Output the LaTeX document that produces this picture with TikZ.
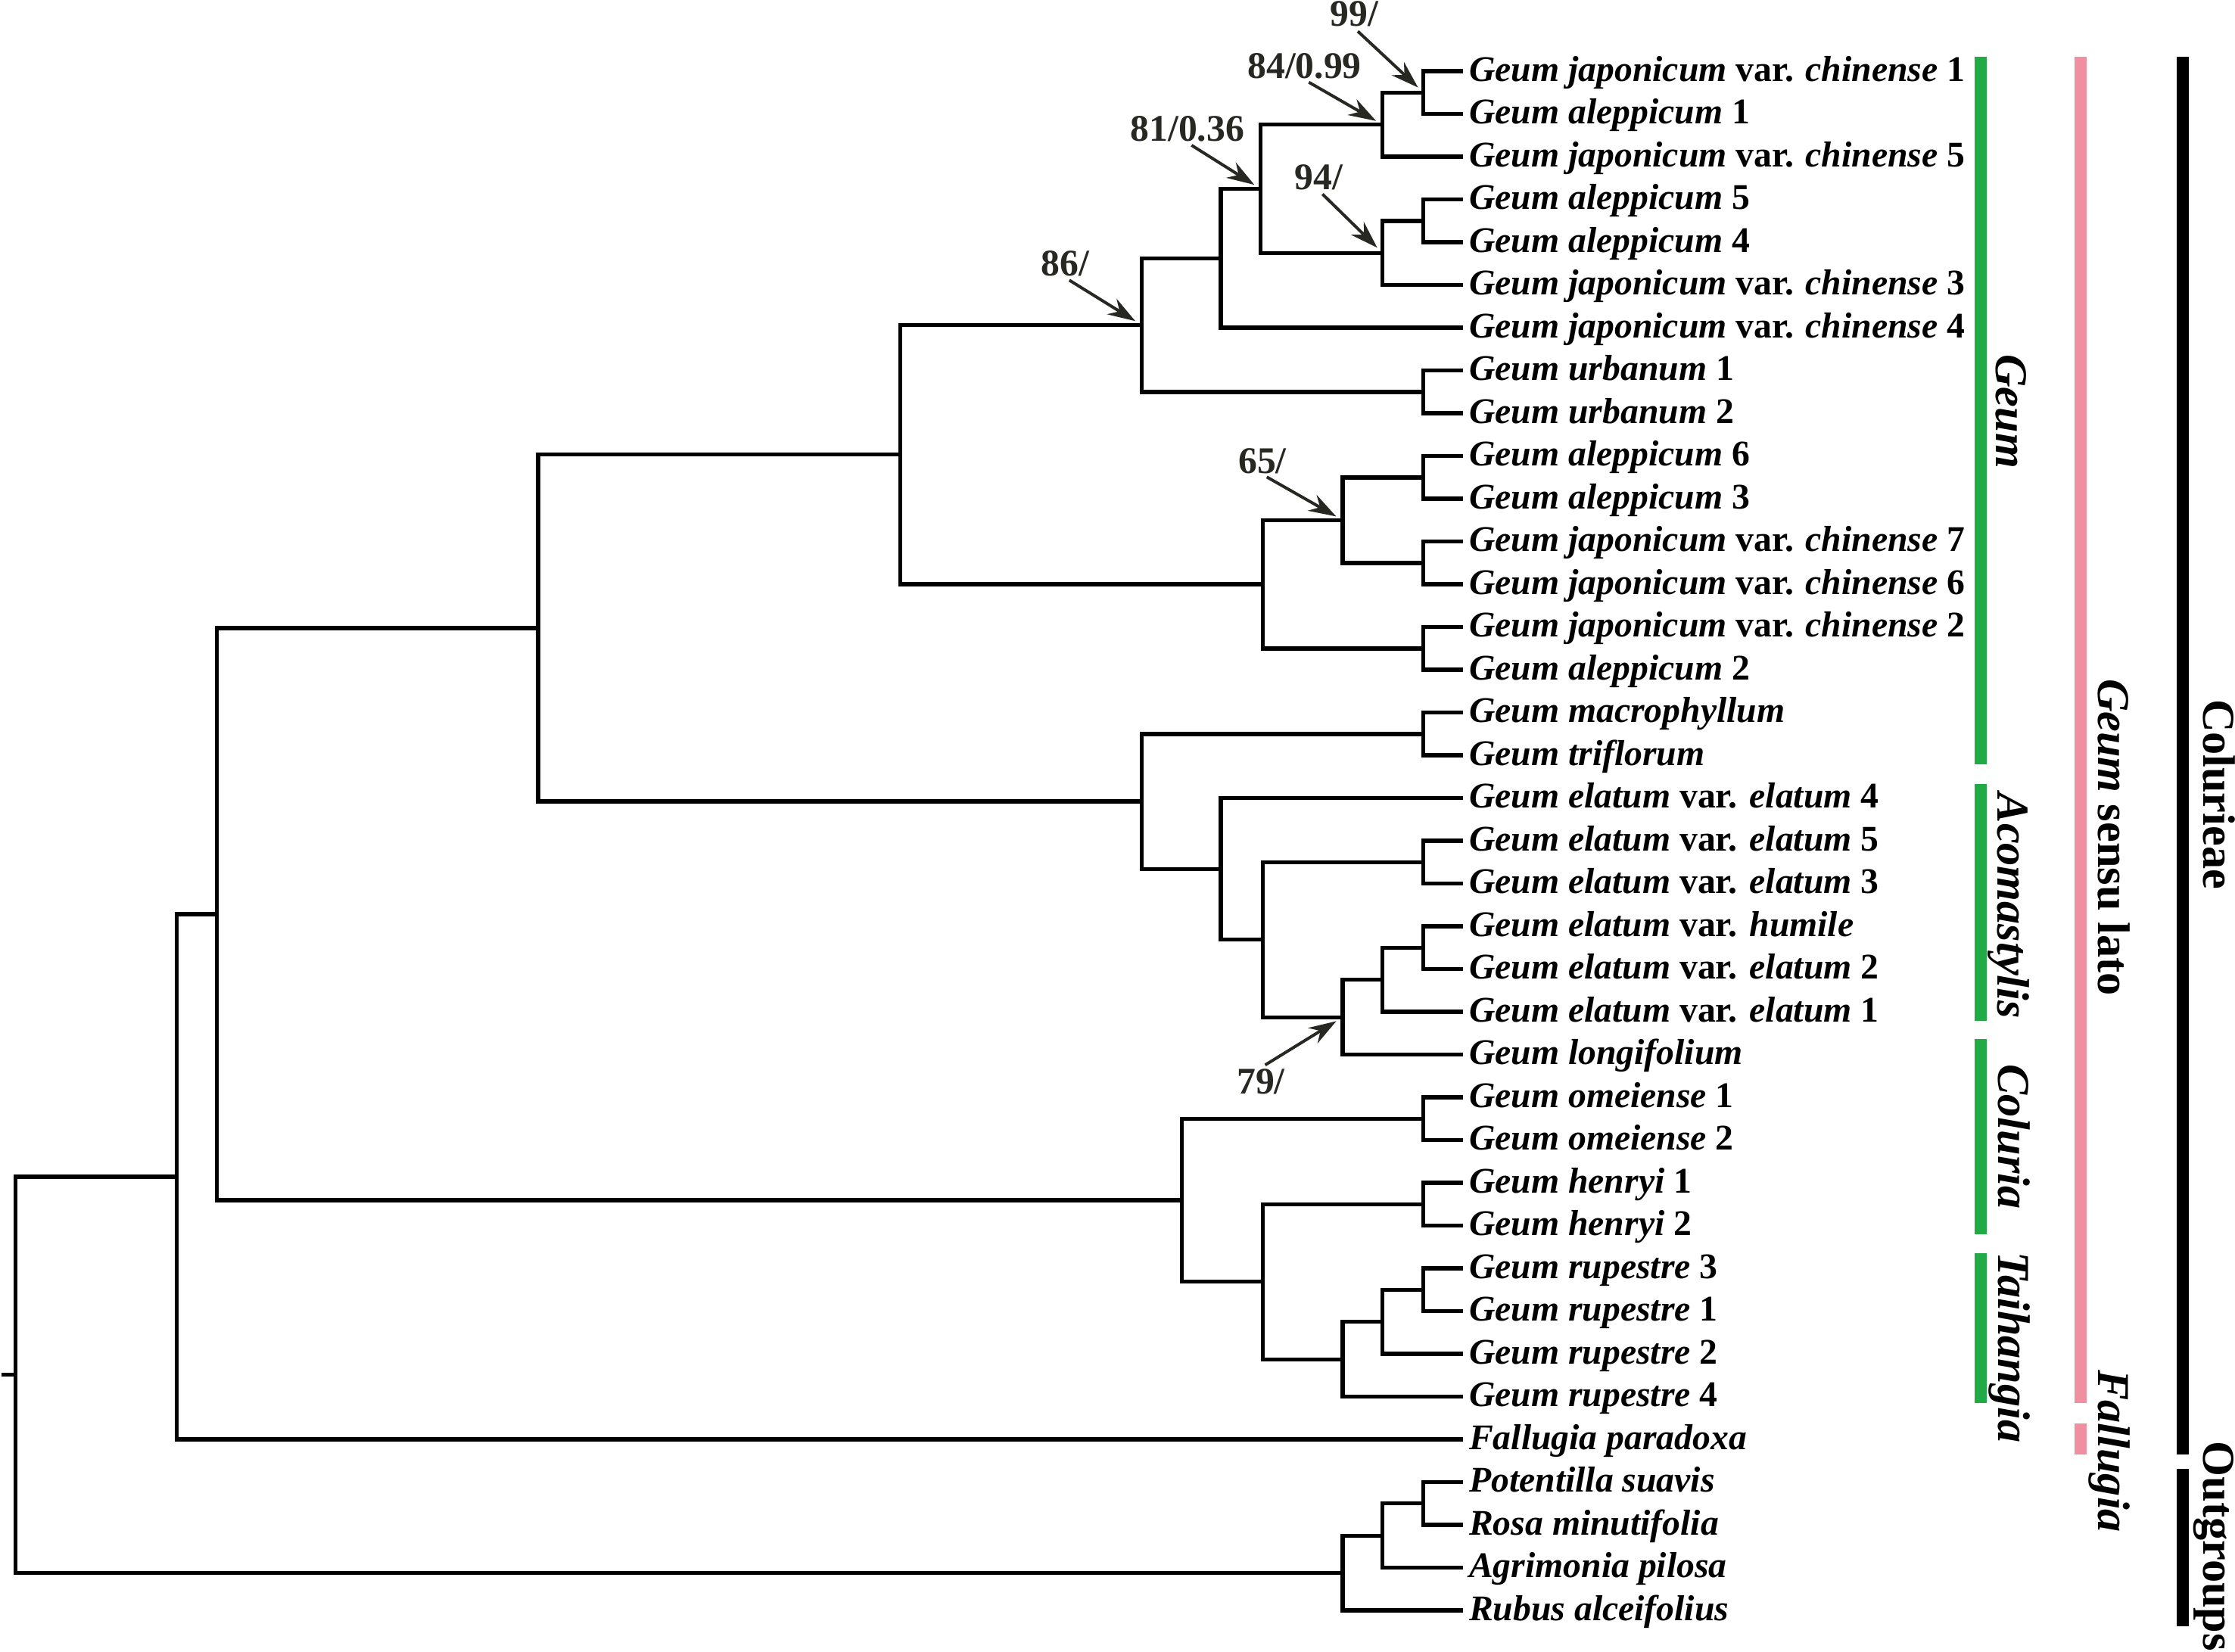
\documentclass[tikz,border=0pt]{standalone}
\usepackage{fontspec}
\setmainfont{Liberation Serif}
\usepackage{tikz}
\usetikzlibrary{arrows.meta,calc}
\definecolor{geumgreen}{RGB}{34,170,70}
\definecolor{slpink}{RGB}{240,143,160}
\definecolor{pointgray}{RGB}{40,40,35}

\begin{document}
\begin{tikzpicture}[
    x=0.01cm, y=-0.01cm,
    branch/.style={line width=0.8pt},
    tip/.style={anchor=west, inner xsep=1pt, inner ysep=0pt, text height=5.5pt, text depth=1.5pt, font=\fontsize{7.2}{8}\selectfont\bfseries},
    boot/.style={anchor=base, inner sep=0pt, font=\fontsize{7.5}{8}\selectfont\bfseries, text=pointgray},
    pointer/.style={-{Stealth[length=5.5pt,width=3.6pt,inset=1.8pt]}, line width=0.6pt, pointgray, shorten <=1pt, shorten >=1.5pt},
    clade/.style={rotate=-90, anchor=base, inner sep=0pt, font=\fontsize{9.1}{10}\selectfont\bfseries},
    bar/.style={line width=2.4pt}
]
    \useasboundingbox (0,0) rectangle (1568,1159.14);

    % tips
    \node [tip] (t1) at (1026.5,50) {\textit{Geum japonicum} var. \textit{chinense} 1};
    \node [tip] (t2) at (1026.5,80) {\textit{Geum aleppicum} 1};
    \node [tip] (t3) at (1026.5,110) {\textit{Geum japonicum} var. \textit{chinense} 5};
    \node [tip] (t4) at (1026.5,140) {\textit{Geum aleppicum} 5};
    \node [tip] (t5) at (1026.5,170) {\textit{Geum aleppicum} 4};
    \node [tip] (t6) at (1026.5,200) {\textit{Geum japonicum} var. \textit{chinense} 3};
    \node [tip] (t7) at (1026.5,230) {\textit{Geum japonicum} var. \textit{chinense} 4};
    \node [tip] (t8) at (1026.5,260) {\textit{Geum urbanum} 1};
    \node [tip] (t9) at (1026.5,290) {\textit{Geum urbanum} 2};
    \node [tip] (t10) at (1026.5,320) {\textit{Geum aleppicum} 6};
    \node [tip] (t11) at (1026.5,350) {\textit{Geum aleppicum} 3};
    \node [tip] (t12) at (1026.5,380) {\textit{Geum japonicum} var. \textit{chinense} 7};
    \node [tip] (t13) at (1026.5,410) {\textit{Geum japonicum} var. \textit{chinense} 6};
    \node [tip] (t14) at (1026.5,440) {\textit{Geum japonicum} var. \textit{chinense} 2};
    \node [tip] (t15) at (1026.5,470) {\textit{Geum aleppicum} 2};
    \node [tip] (t16) at (1026.5,500) {\textit{Geum macrophyllum}};
    \node [tip] (t17) at (1026.5,530) {\textit{Geum triflorum}};
    \node [tip] (t18) at (1026.5,560) {\textit{Geum elatum} var. \textit{elatum} 4};
    \node [tip] (t19) at (1026.5,590) {\textit{Geum elatum} var. \textit{elatum} 5};
    \node [tip] (t20) at (1026.5,620) {\textit{Geum elatum} var. \textit{elatum} 3};
    \node [tip] (t21) at (1026.5,650) {\textit{Geum elatum} var. \textit{humile}};
    \node [tip] (t22) at (1026.5,680) {\textit{Geum elatum} var. \textit{elatum} 2};
    \node [tip] (t23) at (1026.5,710) {\textit{Geum elatum} var. \textit{elatum} 1};
    \node [tip] (t24) at (1026.5,740) {\textit{Geum longifolium}};
    \node [tip] (t25) at (1026.5,770) {\textit{Geum omeiense} 1};
    \node [tip] (t26) at (1026.5,800) {\textit{Geum omeiense} 2};
    \node [tip] (t27) at (1026.5,830) {\textit{Geum henryi} 1};
    \node [tip] (t28) at (1026.5,860) {\textit{Geum henryi} 2};
    \node [tip] (t29) at (1026.5,890) {\textit{Geum rupestre} 3};
    \node [tip] (t30) at (1026.5,920) {\textit{Geum rupestre} 1};
    \node [tip] (t31) at (1026.5,950) {\textit{Geum rupestre} 2};
    \node [tip] (t32) at (1026.5,980) {\textit{Geum rupestre} 4};
    \node [tip] (t33) at (1026.5,1010) {\textit{Fallugia paradoxa}};
    \node [tip] (t34) at (1026.5,1040) {\textit{Potentilla suavis}};
    \node [tip] (t35) at (1026.5,1070) {\textit{Rosa minutifolia}};
    \node [tip] (t36) at (1026.5,1100) {\textit{Agrimonia pilosa}};
    \node [tip] (t37) at (1026.5,1130) {\textit{Rubus alceifolius}};

    % internal nodes
    \coordinate (stub) at (1,964.7);
    \coordinate (root) at (11,964.7);
    \coordinate (ingroup) at (124,825.7);
    \coordinate (geumsl) at (152,641.4);
    \coordinate (upper) at (377.6,440.7);
    \coordinate (geumA) at (631.6,319);
    \coordinate (c86) at (801,228.1);
    \coordinate (jcA) at (856.5,181.25);
    \coordinate (c81) at (884.5,132.5);
    \coordinate (c84) at (970,87.5);
    \coordinate (c99) at (998.7,65);
    \coordinate (c94) at (970,177.5);
    \coordinate (al54) at (998.7,155);
    \coordinate (urb) at (998.7,275);
    \coordinate (geumB) at (886,410);
    \coordinate (c65) at (942,365);
    \coordinate (al63) at (998.7,335);
    \coordinate (jc76) at (998.7,395);
    \coordinate (jcal) at (998.7,455);
    \coordinate (lower) at (801,562.3);
    \coordinate (mactri) at (998.7,515);
    \coordinate (aco) at (856.5,609.7);
    \coordinate (acoB) at (886,659.4);
    \coordinate (el53) at (998.7,605);
    \coordinate (c79) at (942,713.75);
    \coordinate (el21) at (970,687.5);
    \coordinate (humel) at (998.7,665);
    \coordinate (coltai) at (829,842.2);
    \coordinate (ome) at (998.7,785);
    \coordinate (hentai) at (886,899.4);
    \coordinate (hen) at (998.7,845);
    \coordinate (tai) at (942,953.75);
    \coordinate (taiB) at (970,927.5);
    \coordinate (rup) at (998.7,905);
    \coordinate (outg) at (942,1103.75);
    \coordinate (outB) at (970,1077.5);
    \coordinate (potros) at (998.7,1055);

    % branches
    \draw [branch] (stub) -- (root);
    \draw [branch] (root) |- (ingroup) (root) |- (outg);
    \draw [branch] (ingroup) |- (geumsl) (ingroup) |- (t33.west);
    \draw [branch] (geumsl) |- (upper) (geumsl) |- (coltai);
    \draw [branch] (upper) |- (geumA) (upper) |- (lower);
    \draw [branch] (geumA) |- (c86) (geumA) |- (geumB);
    \draw [branch] (c86) |- (jcA) (c86) |- (urb);
    \draw [branch] (jcA) |- (c81) (jcA) |- (t7.west);
    \draw [branch] (c81) |- (c84) (c81) |- (c94);
    \draw [branch] (c84) |- (c99) (c84) |- (t3.west);
    \draw [branch] (c99) |- (t1.west) (c99) |- (t2.west);
    \draw [branch] (c94) |- (al54) (c94) |- (t6.west);
    \draw [branch] (al54) |- (t4.west) (al54) |- (t5.west);
    \draw [branch] (urb) |- (t8.west) (urb) |- (t9.west);
    \draw [branch] (geumB) |- (c65) (geumB) |- (jcal);
    \draw [branch] (c65) |- (al63) (c65) |- (jc76);
    \draw [branch] (al63) |- (t10.west) (al63) |- (t11.west);
    \draw [branch] (jc76) |- (t12.west) (jc76) |- (t13.west);
    \draw [branch] (jcal) |- (t14.west) (jcal) |- (t15.west);
    \draw [branch] (lower) |- (mactri) (lower) |- (aco);
    \draw [branch] (mactri) |- (t16.west) (mactri) |- (t17.west);
    \draw [branch] (aco) |- (t18.west) (aco) |- (acoB);
    \draw [branch] (acoB) |- (el53) (acoB) |- (c79);
    \draw [branch] (el53) |- (t19.west) (el53) |- (t20.west);
    \draw [branch] (c79) |- (el21) (c79) |- (t24.west);
    \draw [branch] (el21) |- (humel) (el21) |- (t23.west);
    \draw [branch] (humel) |- (t21.west) (humel) |- (t22.west);
    \draw [branch] (coltai) |- (ome) (coltai) |- (hentai);
    \draw [branch] (ome) |- (t25.west) (ome) |- (t26.west);
    \draw [branch] (hentai) |- (hen) (hentai) |- (tai);
    \draw [branch] (hen) |- (t27.west) (hen) |- (t28.west);
    \draw [branch] (tai) |- (taiB) (tai) |- (t32.west);
    \draw [branch] (taiB) |- (rup) (taiB) |- (t31.west);
    \draw [branch] (rup) |- (t29.west) (rup) |- (t30.west);
    \draw [branch] (outg) |- (outB) (outg) |- (t37.west);
    \draw [branch] (outB) |- (potros) (outB) |- (t36.west);
    \draw [branch] (potros) |- (t34.west) (potros) |- (t35.west);

    % support values
    \node [boot] (b99) at (950,18.6) {99/};
    \node [boot] (b84) at (915.2,54.9) {84/0.99};
    \node [boot] (b81) at (833,99) {81/0.36};
    \node [boot] (b94) at (925.3,132.8) {94/};
    \node [boot] (b86) at (747.2,193.8) {86/};
    \node [boot] (b65) at (885.7,332) {65/};
    \node [boot] (b79) at (884.6,767.3) {79/};

    \draw [pointer] (b99.south) -- (c99);
    \draw [pointer] (b84.south) -- (c84);
    \draw [pointer] (b81.south) -- (c81);
    \draw [pointer] (b94.south) -- (c94);
    \draw [pointer] (b86.south) -- (c86);
    \draw [pointer] (b65.south) -- (c65);
    \draw [pointer] (b79.north) -- (c79);

    % clade bars
    \coordinate (gTop) at (1389.8,40);
    \coordinate (gBot) at (1389.8,536.5);
    \coordinate (aTop) at (1389.8,550);
    \coordinate (aBot) at (1389.8,716.2);
    \coordinate (cTop) at (1389.8,729);
    \coordinate (cBot) at (1389.8,865.9);
    \coordinate (hTop) at (1389.8,879.4);
    \coordinate (hBot) at (1389.8,984.7);
    \coordinate (slTop) at (1459.8,40);
    \coordinate (slBot) at (1459.8,984.7);
    \coordinate (fTop) at (1459.8,998.6);
    \coordinate (fBot) at (1459.8,1020.7);
    \coordinate (trTop) at (1531.5,40);
    \coordinate (trBot) at (1531.5,1020.7);
    \coordinate (oTop) at (1531.5,1030.9);
    \coordinate (oBot) at (1531.5,1141);

    \draw [bar, geumgreen] (gTop) -- (gBot);
    \draw [bar, geumgreen] (aTop) -- (aBot);
    \draw [bar, geumgreen] (cTop) -- (cBot);
    \draw [bar, geumgreen] (hTop) -- (hBot);
    \draw [bar, slpink] (slTop) -- (slBot);
    \draw [bar, slpink] (fTop) -- (fBot);
    \draw [bar, black] (trTop) -- (trBot);
    \draw [bar, black] (oTop) -- (oBot);

    \node [clade] (lgeum) at (1400.5,288.7) {\textit{Geum}};
    \node [clade] (laco) at (1401.5,635.5) {\textit{Acomastylis}};
    \node [clade] (lcol) at (1402,797.5) {\textit{Coluria}};
    \node [clade] (ltai) at (1402,945.3) {\textit{Taihangia}};
    \node [clade] (lsl) at (1472,587.5) {\textit{Geum} sensu lato};
    \node [clade] (lfal) at (1472,1018.3) {\textit{Fallugia}};
    \node [clade] (ltribe) at (1546,557.3) {Colurieae};
    \node [clade] (lout) at (1546,1085) {Outgroups};
\end{tikzpicture}
\end{document}
